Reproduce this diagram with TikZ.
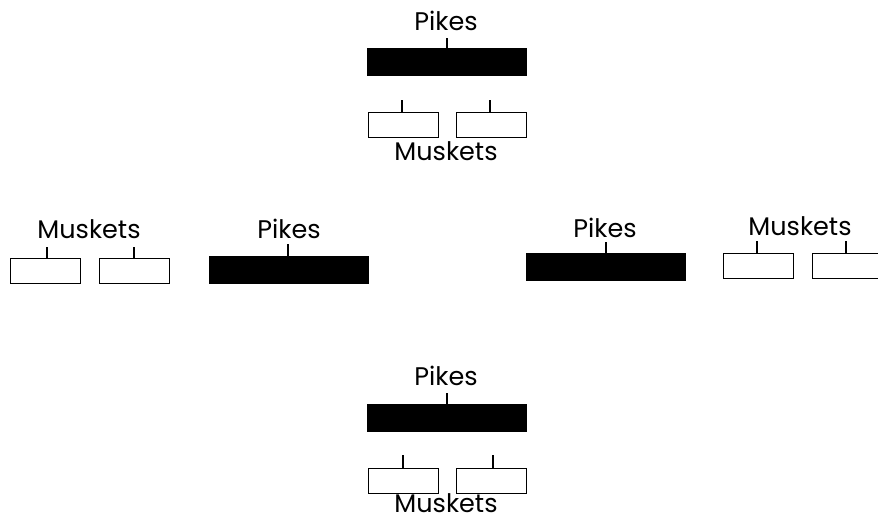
\documentclass[tikz,border=0pt]{standalone}
\usepackage{fontspec}
\setmainfont{Poppins}
\begin{document}
\begin{tikzpicture}[x=1pt,y=-1pt,
  pikebar/.style={draw=black,fill=black,line width=1pt,minimum width=159pt,minimum height=27pt,inner sep=0pt,anchor=north west},
  musketbox/.style={draw=black,fill=white,line width=1.4pt,minimum width=70pt,minimum height=25pt,inner sep=0pt,anchor=north west},
  lbl/.style={font=\fontsize{25.5}{25.5}\selectfont,inner sep=0pt,anchor=base},
  tick/.style={line width=1.3pt}]
\useasboundingbox (0,0) rectangle (878,519);
% ---------- top group
\node[lbl] (tpl) at (446,31) {Pikes};
\node[pikebar] (tp) at (367,48) {};
\coordinate (tpt) at (447,38);
\draw[tick] (tp.north -| tpt) -- (tpt);
\node[musketbox] (tm1) at (368,112) {};
\node[musketbox] (tm2) at (456,112) {};
\coordinate (tm1t) at (402,100);
\coordinate (tm2t) at (490,100);
\draw[tick] (tm1.north -| tm1t) -- (tm1t);
\draw[tick] (tm2.north -| tm2t) -- (tm2t);
\node[lbl] (tml) at (446,160) {Muskets};
% ---------- left group
\node[lbl] (lml) at (89,238) {Muskets};
\node[musketbox] (lm1) at (10,258) {};
\node[musketbox] (lm2) at (99,258) {};
\coordinate (lm1t) at (47,247);
\coordinate (lm2t) at (134,247);
\draw[tick] (lm1.north -| lm1t) -- (lm1t);
\draw[tick] (lm2.north -| lm2t) -- (lm2t);
\node[lbl] (lpl) at (289,238) {Pikes};
\node[pikebar] (lp) at (209,256) {};
\coordinate (lpt) at (288,244);
\draw[tick] (lp.north -| lpt) -- (lpt);
% ---------- right group
\node[lbl] (rpl) at (605,237) {Pikes};
\node[pikebar] (rp) at (526,253) {};
\coordinate (rpt) at (606,242);
\draw[tick] (rp.north -| rpt) -- (rpt);
\node[lbl] (rml) at (800,235) {Muskets};
\node[musketbox] (rm1) at (723,253) {};
\node[musketbox] (rm2) at (812,253) {};
\coordinate (rm1t) at (757,241);
\coordinate (rm2t) at (846,241);
\draw[tick] (rm1.north -| rm1t) -- (rm1t);
\draw[tick] (rm2.north -| rm2t) -- (rm2t);
% ---------- bottom group
\node[lbl] (bpl) at (446,385) {Pikes};
\node[pikebar] (bp) at (367,404) {};
\coordinate (bpt) at (447,393);
\draw[tick] (bp.north -| bpt) -- (bpt);
\node[musketbox] (bm1) at (368,468) {};
\node[musketbox] (bm2) at (456,468) {};
\coordinate (bm1t) at (403,455);
\coordinate (bm2t) at (493,455);
\draw[tick] (bm1.north -| bm1t) -- (bm1t);
\draw[tick] (bm2.north -| bm2t) -- (bm2t);
\node[lbl] (bml) at (446,512) {Muskets};
\end{tikzpicture}
\end{document}
